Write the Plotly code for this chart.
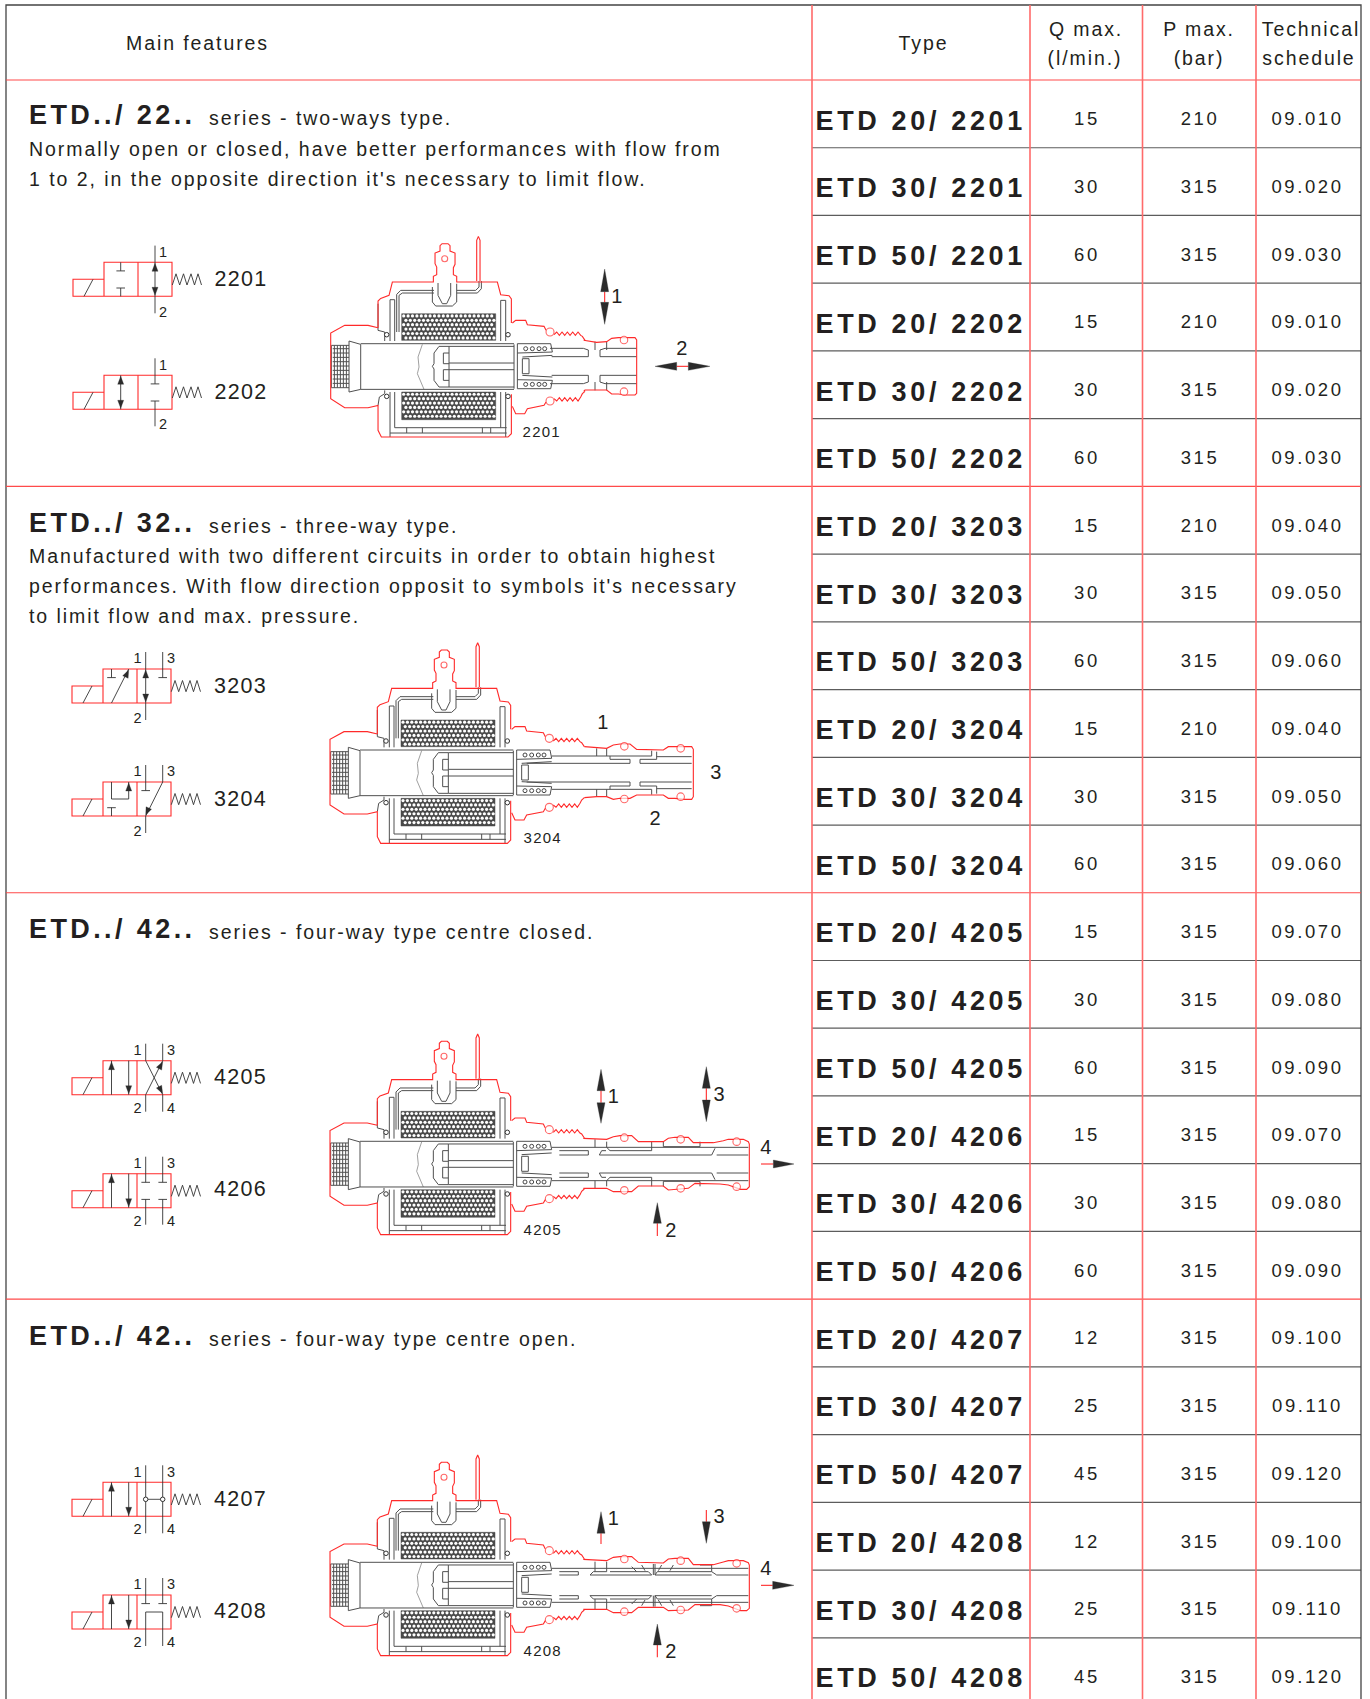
import numpy as np
import plotly.graph_objects as go

# ---------- table data ----------
TYPES = ["ETD 20/ 2201","ETD 30/ 2201","ETD 50/ 2201","ETD 20/ 2202","ETD 30/ 2202","ETD 50/ 2202",
         "ETD 20/ 3203","ETD 30/ 3203","ETD 50/ 3203","ETD 20/ 3204","ETD 30/ 3204","ETD 50/ 3204",
         "ETD 20/ 4205","ETD 30/ 4205","ETD 50/ 4205","ETD 20/ 4206","ETD 30/ 4206","ETD 50/ 4206",
         "ETD 20/ 4207","ETD 30/ 4207","ETD 50/ 4207","ETD 20/ 4208","ETD 30/ 4208","ETD 50/ 4208"]
QMAX = ["15","30","60","15","30","60","15","30","60","15","30","60",
        "15","30","60","15","30","60","12","25","45","12","25","45"]
PMAX = ["210","315","315","210","315","315","210","315","315","210","315","315",
        "315","315","315","315","315","315","315","315","315","315","315","315"]
SCHED = ["09.010","09.020","09.030","09.010","09.020","09.030","09.040","09.050","09.060","09.040","09.050","09.060",
         "09.070","09.080","09.090","09.070","09.080","09.090","09.100","09.110","09.120","09.100","09.110","09.120"]
HEAD_TEXT = ["Main features","Type","Q max.","(l/min.)","P max.","(bar)","Technical","schedule"]
HEAD_X = [197.5,923.5,1086,1085,1199,1199,1311,1309]
HEAD_Y = [43,43,28.5,58,28.5,58,28.5,58]
SERIES = ["ETD../ 22..","ETD../ 32..","ETD../ 42..","ETD../ 42.."]
SERIES_Y = [115,522.5,929,1335.5]
SUB = ["series - two-ways type.","series - three-way type.","series - four-way type centre closed.","series - four-way type centre open."]
SUB_Y = [118,526,931.5,1338.5]
BODY = ["Normally open or closed, have better performances with flow from",
        "1 to 2, in the opposite direction it's necessary to limit flow.",
        "Manufactured with two different circuits in order to obtain highest",
        "performances. With flow direction opposit to symbols it's necessary",
        "to limit flow and max. pressure."]
BODY_Y = [148.5,179,556,585.5,615.5]

ROW0, ROWH = 80, 67.73
COLS = [812,1030,1142.5,1256]
RIGHT, LEFT = 1361, 6

red, gray, dark, fills, arrows = [], [], [], [], []
pale = []
rings_x, rings_y, rings_s = [], [], []
sm = {"x":[], "y":[]}   # small black rings
coil_fill = []
holes_x, holes_y = [], []

def poly(store, pts):
    for p in pts:
        store.append(p)
    store.append((None, None))

def tri(tip, base, hw):
    tx, ty = tip; bx, by = base
    dx, dy = bx-tx, by-ty
    l = (dx*dx+dy*dy)**.5
    nx, ny = -dy/l*hw, dx/l*hw
    poly(arrows, [(tx,ty),(bx+nx,by+ny),(bx-nx,by-ny),(tx,ty)])

# ---------- schematic symbols ----------
SPRING_X = [68.3,72,75.7,79.5,83,87,90.5,94,97.5]
SPRING_Y = [22.7,11.5,22.7,11.5,22.7,11.5,22.7,11.5,22.7]

def vbox(x0, y0):
    poly(red, [(x0,y0+17),(x0-31,y0+17),(x0-31,y0+34),(x0+68,y0+34),(x0+68,y0),(x0,y0),(x0,y0+34)])
    poly(red, [(x0+34,y0),(x0+34,y0+34)])
    poly(dark, [(x0-20,y0+34),(x0-11,y0+17)])
    poly(dark, [(x0+a,y0+b) for a,b in zip(SPRING_X,SPRING_Y)])

def tee_top(x, y0, ys=-17, bar=8.6):
    poly(dark, [(x,y0+ys),(x,y0+bar)]); poly(dark, [(x-4.3,y0+bar),(x+4.3,y0+bar)])
def tee_bot(x, y0, ye=51, bar=25.7):
    poly(dark, [(x,y0+ye),(x,y0+bar)]); poly(dark, [(x-4.3,y0+bar),(x+4.3,y0+bar)])
def sym_txt(lst, x, y, t): lst.append((x,y,t))

SYMT, NUMT = [], []
def updown(x0, y0):
    poly(dark, [(x0+8.5,y0+34),(x0+8.5,y0)]); tri((x0+8.5,y0+1),(x0+8.5,y0+9),3)
    poly(dark, [(x0+25.7,y0),(x0+25.7,y0+34)]); tri((x0+25.7,y0+33),(x0+25.7,y0+25),3)
def port_labels(y0, top, bot, three=True, four=True):
    sym_txt(NUMT,137.5,y0+top,"1")
    if three: sym_txt(NUMT,171,y0+top,"3")
    sym_txt(NUMT,137.5,y0+bot,"2")
    if four: sym_txt(NUMT,171,y0+bot,"4")

# 2201 / 2202
x0 = 104
y = 262.3; vbox(x0,y)
tee_top(x0+16.7,y,0); tee_bot(x0+16.7,y,34)
poly(dark,[(x0+51,y-16.7),(x0+51,y+51)]); tri((x0+51,y+1),(x0+51,y+9),3); tri((x0+51,y+33),(x0+51,y+25),3)
sym_txt(NUMT,163,251,"1"); sym_txt(NUMT,163,311,"2"); sym_txt(SYMT,214.5,278,"2201")
y = 375.3; vbox(x0,y)
poly(dark,[(x0+16.7,y),(x0+16.7,y+34)]); tri((x0+16.7,y+1),(x0+16.7,y+9),3); tri((x0+16.7,y+33),(x0+16.7,y+25),3)
tee_top(x0+51,y,-17); tee_bot(x0+51,y,51)
sym_txt(NUMT,163,364,"1"); sym_txt(NUMT,163,423,"2"); sym_txt(SYMT,214.5,391,"2202")

x0 = 103
# 3203
y = 669; vbox(x0,y)
tee_top(x0+8.5,y,0)
poly(dark,[(x0+8.5,y+34),(x0+25.7,y)]); tri((x0+25.7,y+1),(x0+22.4,y+8),3)
poly(dark,[(x0+42.7,y-17),(x0+42.7,y+51)]); tri((x0+42.7,y+1),(x0+42.7,y+9),3); tri((x0+42.7,y+33),(x0+42.7,y+25),3)
tee_top(x0+59.7,y,-17)
port_labels(y,-12.5,48,True,False); sym_txt(SYMT,214,685,"3203")
# 3204
y = 782; vbox(x0,y)
poly(dark,[(x0+8.5,y),(x0+8.5,y+17),(x0+25.7,y+17),(x0+25.7,y)]); tri((x0+25.7,y+1),(x0+25.7,y+9),3)
tee_bot(x0+8.5,y,34)
tee_top(x0+42.7,y,-17)
poly(dark,[(x0+59.7,y-17),(x0+59.7,y),(x0+42.7,y+34),(x0+42.7,y+51)]); tri((x0+42.7,y+33),(x0+45.8,y+26),3)
port_labels(y,-12,48,True,False); sym_txt(SYMT,214,798,"3204")
# 4205
y = 1060.7; vbox(x0,y); updown(x0,y)
poly(dark,[(x0+42.7,y-17),(x0+42.7,y),(x0+59.7,y+34),(x0+59.7,y+51)]); tri((x0+59.7,y+33),(x0+56,y+26),3)
poly(dark,[(x0+42.7,y+51),(x0+42.7,y+34),(x0+59.7,y),(x0+59.7,y-17)]); tri((x0+59.7,y+1),(x0+56,y+8),3)
port_labels(y,-11.7,46); sym_txt(SYMT,214,1075.7,"4205")
# 4206
y = 1173.7; vbox(x0,y); updown(x0,y)
for a in (42.7,59.7):
    tee_top(x0+a,y,-17); tee_bot(x0+a,y,51)
port_labels(y,-11.7,46); sym_txt(SYMT,214,1188.5,"4206")
# 4207
y = 1482.3; vbox(x0,y); updown(x0,y)
for a in (42.7,59.7):
    poly(dark,[(x0+a,y-17),(x0+a,y+51)])
    sm["x"].append(x0+a); sm["y"].append(y+17)
poly(gray,[(x0+42.7,y+17),(x0+59.7,y+17)])
port_labels(y,-11.7,46); sym_txt(SYMT,214,1498,"4207")
# 4208
y = 1595; vbox(x0,y); updown(x0,y)
tee_top(x0+42.7,y,-17); tee_top(x0+59.7,y,-17)
poly(dark,[(x0+42.7,y+51),(x0+42.7,y+17),(x0+59.7,y+17),(x0+59.7,y+51)])
port_labels(y,-11.7,46); sym_txt(SYMT,214,1610.5,"4208")

# ---------- valve cross-section (coordinates read in 3x crop pixels) ----------
RED_COMMON = [
 [(172,312),(172,232),(180,224),(205,215),(215,175),(338,175),(338,158),(348,153),(348,130),(343,120),(343,88),(358,82),(358,66),(364,60),(382,60),(388,66),(388,82),(403,88),(403,122),(398,132),(398,153),(408,158),(408,175),(530,175),(540,213),(565,216),(572,226),(572,298)],
 [(172,312),(142,305),(72,305),(30,328),(30,525),(72,552),(142,552),(172,545),(172,620),(182,640),(562,640),(572,630),(572,512)],
 [(575,298),(585,290),(615,290),(620,303),(670,308),(676,320)],
 [(700,333),(708,325),(716,335),(724,325),(732,335),(740,325),(748,335),(756,325),(764,335),(772,325),(780,335),(785,338),(793,350)],
 [(575,548),(585,570),(612,570),(620,555),(670,545),(676,535)],
 [(700,525),(708,532),(716,522),(724,532),(732,522),(740,532),(748,522),(756,532),(764,522),(772,532),(780,520),(785,510),(793,503)],
 [(468,172),(468,50),(473,38),(478,50),(478,172)],
]
GRAY_COMMON = [
 [(32,365),(85,365)],[(32,492),(85,492)],[(32,365),(32,492)],
 [(41,365),(41,492)],[(50,365),(50,492)],[(59,365),(59,492)],[(68,365),(68,492)],[(77,365),(77,492)],
 [(36,375),(85,375)],[(36,388),(85,388)],[(36,401),(85,401)],[(36,414),(85,414)],[(36,427),(85,427)],[(36,440),(85,440)],[(36,453),(85,453)],[(36,466),(85,466)],[(36,479),(85,479)],
 [(85,352),(120,362),(120,497),(85,505),(85,352)],
 [(120,360),(580,360)],[(120,497),(580,497)],
 [(340,388),(355,368),(385,368),(580,368)],
 [(340,388),(340,420),(335,428),(340,436),(340,470),(355,490),(385,490),(580,490)],
 [(368,388),(385,388)],[(368,470),(385,470)],[(368,388),(368,420),(385,420)],[(368,470),(368,438),(385,438)],
 [(385,368),(385,490)],[(385,418),(580,418)],[(385,438),(580,438)],
 [(580,362),(580,495)],[(590,360),(590,495)],
 [(590,360),(690,360),(695,385),(590,388)],[(590,495),(690,495),(695,470),(590,468)],
 [(605,405),(625,405),(625,450),(605,450),(605,405)],[(605,400),(695,395)],[(605,455),(695,460)],
 [(208,352),(208,228),(222,228),(222,352)],[(540,352),(540,230),(555,230),(555,352)],
 [(228,325),(228,212),(240,200),(340,200)],[(235,325),(235,215),(245,208),(340,208)],
 [(408,200),(465,200),(475,190),(475,172)],[(408,208),(470,208),(482,195),(482,172)],
 [(335,190),(335,235),(345,247),(395,247),(408,235),(408,180)],
 [(352,178),(352,215),(365,240),(378,240),(390,215),(390,178)],
 [(208,505),(208,640)],[(222,505),(222,612),(558,612)],[(208,628),(558,628)],
 [(555,505),(555,640)],[(540,505),(540,612)],
 [(258,612),(258,628)],[(305,612),(305,628)],[(485,612),(485,628)],[(510,612),(510,628)],
 [(172,240),(172,320),(192,325),(192,352)],[(172,545),(176,520),(192,510),(192,500)],
]
PALE_COMMON = [[(305,362),(292,400),(295,430),(290,450),(310,497)]]
BLACK_RINGS = [(198,333),(198,518),(562,333),(562,518)]
SPRING_COILS = [(615,375),(635,375),(655,375),(672,375),(615,482),(635,482),(655,482),(672,482)]
MAIN_RINGS = [(688,325),(688,532)]
TERMINAL_RING = (372,105)

def mirror(lines, axis):
    return [[(x, 2*axis-y) for x,y in l] for l in lines]

R1 = [[(821,346),(860,352),(890,350),(905,340),(925,338),(960,338),(975,338),(980,345),(980,505),(975,510),(950,510),(925,507),(905,507),(890,495),(860,495),(825,495),(821,499)]]
G1 = [[(720,370),(820,370),(835,375),(835,395),(725,395)],[(870,395),(870,375),(885,370),(980,370)],[(870,395),(980,395)],[(855,350),(855,375)],[(890,350),(890,375)]]
C1 = [(942,345),(942,500)]
R2 = [[(793,350),(860,355),(880,345),(900,342),(930,342),(950,358),(1030,360),(1045,350),(1065,350),(1100,350),(1115,350),(1120,358),(1120,500),(1115,508),(1095,508),(1065,505),(1045,505),(1030,495),(960,495),(950,495),(930,505),(900,505),(880,508),(860,500),(830,500),(793,503)]]
G2 = [[(695,378),(995,378),(995,362)],[(870,378),(870,388),(930,388),(930,400),(620,400)],[(960,400),(960,388),(1010,388),(1010,365)],[(960,400),(1115,400)],[(1010,380),(1115,380)],[(830,355),(830,378)],[(860,355),(860,378)]]
C2 = [(913,349),(1082,355),(913,507),(1082,500)]
R3 = [[(790,355),(860,358),(880,350),(900,347),(935,347),(955,365),(1030,365),(1045,355),(1065,352),(1105,352),(1120,368),(1180,368),(1210,362),(1225,358),(1270,358),(1285,365),(1288,372),(1288,500),(1280,508),(1262,508),(1225,495),(1200,492),(1125,490),(1105,505),(1045,510),(1030,498),(955,498),(935,515),(880,515),(860,505),(790,505)]]
G3 = [[(695,382),(1285,382)],[(860,365),(860,382),(870,392),(995,392),(995,365)],[(1030,365),(1030,380),(1140,380),(1140,365)],[(838,405),(845,392),(858,392)],[(838,405),(1175,405),(1185,385)],[(1190,405),(1285,405)],[(718,392),(805,392),(805,405),(718,405)],[(825,358),(825,382)]]
C3 = [(913,353),(1082,358),(1250,365),(913,511),(1082,505),(1250,500)]
R4 = [[(790,358),(860,362),(880,352),(900,350),(935,350),(955,367),(1030,369),(1045,357),(1065,355),(1105,355),(1120,374),(1180,374),(1210,366),(1225,362),(1270,362),(1285,368),(1288,375),(1288,505),(1280,512),(1262,512),(1225,498),(1200,494),(1125,494),(1105,510),(1045,512),(1030,502),(955,502),(935,518),(880,518),(860,508),(790,508)]]
G4 = [[(695,385),(1285,385)],[(810,405),(820,395),(860,395),(860,365)],[(825,365),(825,395)],[(870,395),(985,395),(995,405),(810,405)],[(1005,405),(1012,395),(1175,395),(1190,405),(1285,405)],[(1005,405),(1175,405)],[(935,380),(950,395)],[(965,375),(975,392)],[(1025,375),(1015,392)],[(1060,375),(1050,392)],[(1000,372),(1000,405)],[(1005,372),(1005,405)],[(1140,375),(1175,375),(1175,395)],[(718,395),(775,395),(775,405),(718,405)]]
C4 = [(913,357),(1082,362),(1250,370),(913,515),(1082,510),(1250,505)]

FRAMES = [  # common origin, specific origin, axis, specific lists
 ((320.7,223.7),(310,225),423,R1,G1,C1),
 ((320,630),(320,630),428,R2,G2,C2),
 ((320,1021.3),(320,1020),432,R3,G3,C3),
 ((320,1442.3),(320,1440),436,R4,G4,C4),
]
def tf(org, pts):
    return [(org[0]+x/3, org[1]+y/3) for x,y in pts]

for com, spec, axis, Rr, Gg, Cc in FRAMES:
    for l in RED_COMMON: poly(red, tf(com,l))
    for l in GRAY_COMMON: poly(gray, tf(com,l))
    for l in PALE_COMMON: poly(pale, tf(com,l))
    for l in Rr: poly(red, tf(spec,l))
    for l in Gg: poly(gray, tf(spec,l))
    for l in mirror(Gg,axis): poly(gray, tf(spec,l))
    for p in tf(spec,Cc): rings_x.append(p[0]); rings_y.append(p[1]); rings_s.append(7.5)
    for p in tf(com,MAIN_RINGS): rings_x.append(p[0]); rings_y.append(p[1]); rings_s.append(8)
    p = tf(com,[TERMINAL_RING])[0]; rings_x.append(p[0]); rings_y.append(p[1]); rings_s.append(6)
    for p in tf(com,BLACK_RINGS): sm["x"].append(p[0]); sm["y"].append(p[1])
    for yt,yb in ((270,350),(505,588)):
        poly(coil_fill, tf(com,[(243,yt),(525,yt),(525,yb),(243,yb),(243,yt)]))
        ya, yz = com[1]+yt/3, com[1]+yb/3
        xa, xz = com[0]+243/3, com[0]+525/3
        for j,yy in enumerate(np.arange(ya+2.2, yz-1, 4.4)):
            for xx in np.arange(xa+2+(2.2 if j%2 else 0), xz-1, 4.4):
                holes_x.append(float(xx)); holes_y.append(float(yy))

# spring-coil glyphs are drawn as small open rings
coils_x, coils_y = [], []
for com, *_ in FRAMES:
    for p in tf(com,SPRING_COILS):
        coils_x.append(p[0]); coils_y.append(p[1])

# port arrows: (origin, stem, heads)
def arrows_big(o, stems, heads):
    for a,b in stems:
        poly(red, tf(o,[a,b]))
    for tip,base in heads:
        t,b = tf(o,[tip,base]); tri(t,b,4)

arrows_big((310,225),[((884,200),(884,232)),((1100,424),(1135,424))],
           [((884,132),(884,200)),((884,298),(884,232)),((1035,424),(1100,424)),((1200,424),(1135,424))])
arrows_big((320,1020),[((843,212),(843,248)),((1159,205),(1159,240)),((1012,610),(1012,648)),((1323,432),(1360,432))],
           [((843,148),(843,212)),((843,310),(843,248)),((1159,140),(1159,205)),((1159,305),(1159,240)),((1012,548),(1012,610)),((1422,432),(1360,432))])
arrows_big((320,1440),[((843,280),(843,312)),((1159,210),(1159,245)),((1012,615),(1012,652)),((1323,436),(1358,436))],
           [((843,215),(843,280)),((1159,310),(1159,245)),((1012,552),(1012,615)),((1422,436),(1358,436))])

BIGNUM = [(616.7,295,"1"),(681.7,347.7,"2"),(602.7,721.7,"1"),(715.7,771,"3"),(655,817.3,"2"),
          (613.3,1095,"1"),(719,1093.3,"3"),(670.7,1229.3,"2"),(765.7,1146.7,"4"),
          (613.3,1517.3,"1"),(719,1515,"3"),(670.7,1650,"2"),(765.7,1567.3,"4")]
CAPTION = [(541.7,431,"2201"),(542.7,836.7,"3204"),(542.7,1229,"4205"),(542.7,1650,"4208")]

# ---------- figure ----------
fig = go.Figure()
def add_lines(store, color, width, fill=None):
    xs = [p[0] for p in store]; ys = [p[1] for p in store]
    kw = dict(fill="toself", fillcolor=fill) if fill else {}
    fig.add_trace(go.Scatter(x=xs, y=ys, mode="lines", line=dict(color=color, width=width), hoverinfo="skip", **kw))

# grid
vert = []
for c in COLS: poly(vert, [(c,5),(c,1699)])
hgray = []
for k in range(1,24):
    if k % 6:
        poly(hgray, [(COLS[0],ROW0+ROWH*k),(RIGHT,ROW0+ROWH*k)])
hred = []
for k in (0,6,12,18):
    poly(hred, [(LEFT,ROW0+ROWH*k),(RIGHT,ROW0+ROWH*k)])
border = []
poly(border, [(LEFT,1699),(LEFT,5),(RIGHT,5),(RIGHT,1699)])

add_lines(coil_fill, "#4a4a4a", 0.5, "#4a4a4a")
fig.add_trace(go.Scatter(x=holes_x,y=holes_y,mode="markers",marker=dict(size=3.2,color="#ffffff"),hoverinfo="skip"))
add_lines(hgray, "#5c5c5c", 1.2)
add_lines(pale, "#888888", 0.8)
add_lines(gray, "#505050", 1.0)
add_lines(border, "#444444", 1.3)
add_lines(red, "#ff2a2a", 1.1)
add_lines(hred, "#ff4a4a", 1.2)
add_lines(vert, "#ff6a6a", 1.6)
add_lines(dark, "#333333", 0.9)
add_lines(arrows, "#2b2b2b", 0.3, "#2b2b2b")
fig.add_trace(go.Scatter(x=coils_x,y=coils_y,mode="markers",marker=dict(size=4,color="#ffffff",line=dict(color="#333333",width=0.9)),hoverinfo="skip"))
fig.add_trace(go.Scatter(x=rings_x,y=rings_y,mode="markers",marker=dict(size=rings_s,color="#ffffff",line=dict(color="#ff2a2a",width=1.1)),hoverinfo="skip"))
fig.add_trace(go.Scatter(x=sm["x"],y=sm["y"],mode="markers",marker=dict(size=4.5,color="#ffffff",line=dict(color="#333333",width=1)),hoverinfo="skip"))

TXT = "#231f20"
TEXT_DY = 2.5
def add_text(xs, ys, texts, size, bold=False, pos="middle center", ls=0.0):
    fig.add_trace(go.Scatter(x=xs,y=[v+TEXT_DY for v in ys],text=texts,mode="text",textposition=pos,hoverinfo="skip",meta=ls,
        textfont=dict(family="Liberation Sans",size=size,color=TXT,weight="bold" if bold else "normal")))

rows_c = [ROW0+ROWH*(k+.5) for k in range(24)]
add_text([815.5]*24,[r+6.5 for r in rows_c],TYPES,27,True,"middle right",3.65)
add_text([1087]*24,[r+4.3 for r in rows_c],QMAX,18.5,False,"middle center",2.6)
add_text([1200]*24,[r+4.3 for r in rows_c],PMAX,18.5,False,"middle center",2.6)
add_text([1307.5]*24,[r+4.3 for r in rows_c],SCHED,18.5,False,"middle center",2.6)
add_text(HEAD_X,HEAD_Y,HEAD_TEXT,19.5,False,"middle center",1.9)
add_text([29]*4,SERIES_Y,SERIES,27,True,"middle right",3.4)
add_text([209]*4,SUB_Y,SUB,19.5,False,"middle right",1.95)
add_text([29]*5,BODY_Y,BODY,19.5,False,"middle right",1.95)
add_text([t[0] for t in SYMT],[t[1] for t in SYMT],[t[2] for t in SYMT],21.5,False,"middle right",1.3)
add_text([t[0] for t in NUMT],[t[1] for t in NUMT],[t[2] for t in NUMT],14.5,False,"middle center",0)
add_text([t[0] for t in BIGNUM],[t[1] for t in BIGNUM],[t[2] for t in BIGNUM],20,False,"middle center",0)
add_text([t[0] for t in CAPTION],[t[1] for t in CAPTION],[t[2] for t in CAPTION],15,False,"middle center",1.2)

fig.update_layout(width=1370,height=1699,margin=dict(l=0,r=0,t=0,b=0),showlegend=False,
    paper_bgcolor="#ffffff",plot_bgcolor="#ffffff",
    xaxis=dict(range=[0,1370],visible=False,fixedrange=True),
    yaxis=dict(range=[1699,0],visible=False,fixedrange=True))

POST = """
document.body.style.margin='0';document.documentElement.style.overflow='hidden';
var gd=document.querySelector('.js-plotly-plot');
var tr=gd.querySelectorAll('.scatterlayer .trace');
tr.forEach(function(t,i){var ls=gd.data[i].meta;if(ls){t.querySelectorAll('.textpoint text').forEach(function(e){e.style.letterSpacing=ls+'px';});}});
"""
fig.write_html("out.html",config={"displayModeBar":False},post_script=POST)
